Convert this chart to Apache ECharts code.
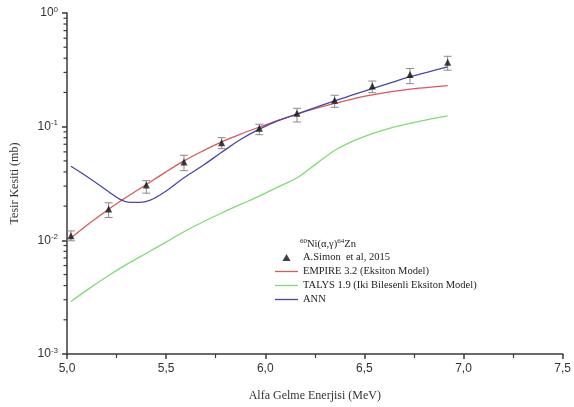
<!DOCTYPE html>
<html>
<head>
<meta charset="utf-8">
<script src="https://cdn.jsdelivr.net/npm/echarts@6/dist/echarts.min.js"></script>
<style>
html,body{margin:0;padding:0;background:#fff;}
#chart{width:574px;height:407px;}
</style>
</head>
<body>
<div id="chart"></div>
<script>
// Experimental data (A.Simon et al, 2015)
var expEnergy = [5.02, 5.21, 5.40, 5.59, 5.78, 5.97, 6.16, 6.35, 6.54, 6.73, 6.92];
var expValue  = [0.011, 0.0189, 0.0306, 0.0489, 0.0721, 0.0968, 0.131, 0.171, 0.228, 0.288, 0.369];
var expLow    = [0.0099, 0.0159, 0.026, 0.041, 0.064, 0.085, 0.11, 0.148, 0.199, 0.239, 0.314];
var expHigh   = [0.0121, 0.0214, 0.0335, 0.056, 0.080, 0.105, 0.145, 0.189, 0.252, 0.325, 0.416];

// Model curves (EMPIRE, TALYS)
var curveEnergy = [5.02, 5.115, 5.21, 5.305, 5.40, 5.495, 5.59, 5.685, 5.78, 5.875, 5.97,
                   6.065, 6.16, 6.255, 6.35, 6.445, 6.54, 6.635, 6.73, 6.825, 6.92];
var empire = [0.0105, 0.0142, 0.0188, 0.0243, 0.031, 0.0396, 0.050, 0.0611, 0.0735, 0.0859, 0.099,
              0.1135, 0.129, 0.1445, 0.160, 0.176, 0.19, 0.203, 0.214, 0.222, 0.23];
var talys  = [0.0029, 0.0038, 0.0049, 0.0062, 0.0077, 0.00955, 0.0119, 0.0145, 0.0174, 0.0207, 0.0245,
              0.0295, 0.0355, 0.0468, 0.0617, 0.075, 0.087, 0.0977, 0.107, 0.116, 0.1245];

// ANN curve
var annEnergy = [5.02, 5.115, 5.21, 5.27, 5.315, 5.365, 5.42, 5.495, 5.59, 5.685, 5.78, 5.875, 5.97,
                 6.065, 6.16, 6.255, 6.35, 6.445, 6.54, 6.635, 6.73, 6.825, 6.92];
var ann = [0.0448, 0.035, 0.0268, 0.0228, 0.0216, 0.0216, 0.0226, 0.0268, 0.0355, 0.0455, 0.0595, 0.077, 0.095,
           0.113, 0.129, 0.148, 0.169, 0.191, 0.216, 0.244, 0.275, 0.304, 0.336];

// Axis ticks
var xTicks = [5.0, 5.5, 6.0, 6.5, 7.0, 7.5];
var yDecades = [-3, -2, -1, 0];

var seriesNames = ['A.Simon  et al, 2015', 'EMPIRE 3.2 (Eksiton Model)',
                   'TALYS 1.9 (Iki Bilesenli Eksiton Model)', 'ANN'];

function pairs(xs, ys) { return xs.map(function (x, i) { return [x, ys[i]]; }); }

var minorVals = [];
for (var d = 0; d < yDecades.length - 1; d++) {
  for (var m = 2; m <= 9; m++) minorVals.push([xTicks[0], m * Math.pow(10, yDecades[d])]);
}

var serif = 'Liberation Serif';
var sans = 'Liberation Sans';
var axisColor = '#3a3a3a';
var lineIcon = 'path://M0,0 L23,0 L23,1.3 L0,1.3 Z';

var chart = echarts.init(document.getElementById('chart'), null, {renderer: 'canvas'});
chart.setOption({
  animation: false,
  backgroundColor: '#ffffff',
  title: {
    left: 300, top: 238, padding: 0,
    text: '{s|60}{n|Ni(α,γ)}{s|64}{n|Zn}',
    textStyle: {
      fontWeight: 'normal',
      rich: {
        s: {fontFamily: serif, fontSize: 7, fontWeight: 'normal', color: '#222', verticalAlign: 'top', padding: [0, 0, 5, 0]},
        n: {fontFamily: serif, fontSize: 10.5, fontWeight: 'normal', color: '#222'}
      }
    }
  },
  legend: {
    orient: 'vertical',
    left: 275, top: 252, padding: 0,
    itemWidth: 23, itemHeight: 7, itemGap: 3,
    symbolKeepAspect: true,
    textStyle: {fontFamily: serif, fontSize: 10.5, color: '#222'},
    data: [
      {name: seriesNames[0], icon: 'path://M5,0 L10,8.66 L0,8.66 Z'},
      {name: seriesNames[1], icon: lineIcon},
      {name: seriesNames[2], icon: lineIcon},
      {name: seriesNames[3], icon: lineIcon}
    ]
  },
  grid: {left: 67, right: 7, top: 13, bottom: 50, containLabel: false},
  xAxis: {
    type: 'value', min: xTicks[0], max: xTicks[xTicks.length - 1], interval: 0.5,
    name: 'Alfa Gelme Enerjisi (MeV)', nameLocation: 'middle', nameGap: 36,
    nameTextStyle: {fontFamily: serif, fontSize: 12, color: '#333'},
    axisLine: {lineStyle: {color: axisColor, width: 1.5}},
    axisTick: {inside: false, length: 5, lineStyle: {color: axisColor, width: 1.5}},
    minorTick: {show: true, splitNumber: 2, length: 4, lineStyle: {color: axisColor, width: 1.2}},
    splitLine: {show: false},
    axisLabel: {
      fontFamily: sans, fontSize: 12, color: '#333', margin: 9,
      formatter: function (v) { return v.toFixed(1).replace('.', ','); }
    }
  },
  yAxis: {
    type: 'log', logBase: 10, min: 0.001, max: 1,
    name: 'Tesir Kesiti (mb)', nameLocation: 'middle', nameGap: 46,
    nameTextStyle: {fontFamily: serif, fontSize: 12, color: '#333'},
    axisLine: {show: true, lineStyle: {color: axisColor, width: 1.5}},
    axisTick: {show: true, inside: false, length: 5, lineStyle: {color: axisColor, width: 1.5}},
    splitLine: {show: false},
    axisLabel: {
      fontFamily: sans, fontSize: 12, color: '#333', margin: 9,
      formatter: function (v) {
        var e = Math.round(Math.log(v) / Math.LN10);
        return '10{sup|' + e + '}';
      },
      rich: {sup: {fontFamily: sans, fontSize: 8, color: '#333', verticalAlign: 'top', padding: [0, 0, 7, 0]}}
    }
  },
  series: [
    {
      name: 'minorTicks', type: 'custom', silent: true, clip: false, z: 1,
      data: minorVals,
      renderItem: function (params, api) {
        var p = api.coord([api.value(0), api.value(1)]);
        return {type: 'line', shape: {x1: p[0] - 3.5, y1: p[1], x2: p[0], y2: p[1]},
                style: {stroke: axisColor, lineWidth: 1.2}};
      }
    },
    {
      name: seriesNames[1], type: 'line', smooth: 0.35, symbol: 'none',
      lineStyle: {color: '#d9585a', width: 1.3}, itemStyle: {color: '#d9585a'},
      data: pairs(curveEnergy, empire), z: 2
    },
    {
      name: seriesNames[2], type: 'line', smooth: 0.35, symbol: 'none',
      lineStyle: {color: '#7fdc72', width: 1.3}, itemStyle: {color: '#7fdc72'},
      data: pairs(curveEnergy, talys), z: 2
    },
    {
      name: seriesNames[3], type: 'line', smooth: 0.4, symbol: 'none',
      lineStyle: {color: '#4747a8', width: 1.3}, itemStyle: {color: '#4747a8'},
      data: pairs(annEnergy, ann), z: 3
    },
    {
      name: 'errors', type: 'custom', silent: true, z: 4,
      data: expEnergy.map(function (x, i) { return [x, expLow[i], expHigh[i]]; }),
      renderItem: function (params, api) {
        var lo = api.coord([api.value(0), api.value(1)]);
        var hi = api.coord([api.value(0), api.value(2)]);
        var w = 4;
        var st = {stroke: '#8a8a8a', lineWidth: 1};
        return {type: 'group', children: [
          {type: 'line', shape: {x1: lo[0], y1: lo[1], x2: hi[0], y2: hi[1]}, style: st},
          {type: 'line', shape: {x1: lo[0] - w, y1: lo[1], x2: lo[0] + w, y2: lo[1]}, style: st},
          {type: 'line', shape: {x1: hi[0] - w, y1: hi[1], x2: hi[0] + w, y2: hi[1]}, style: st}
        ]};
      }
    },
    {
      name: seriesNames[0], type: 'scatter', symbol: 'triangle', symbolSize: 7,
      itemStyle: {color: '#111'}, data: pairs(expEnergy, expValue), z: 5
    }
  ]
});
</script>
</body>
</html>
